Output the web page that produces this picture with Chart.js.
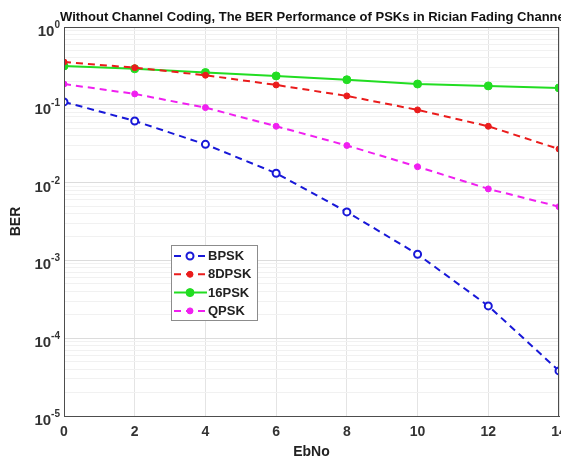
<!DOCTYPE html>
<html>
<head>
<meta charset="utf-8">
<script src="https://cdn.jsdelivr.net/npm/chart.js@4/dist/chart.umd.min.js"></script>
<style>
  html, body { margin: 0; padding: 0; background: #fff; overflow: hidden; }
  #wrap { width: 600px; height: 464px; position: relative; }
</style>
</head>
<body>
<div id="wrap"><canvas id="myChart"></canvas></div>
<script>
// data
const ebno = [0, 2, 4, 6, 8, 10, 12, 14];
const bpsk = [0.109, 0.062, 0.031, 0.0132, 0.0042, 0.0012, 0.00026, 0.000038];
const dpsk8 = [0.355, 0.30, 0.24, 0.18, 0.13, 0.086, 0.053, 0.027];
const psk16 = [0.315, 0.29, 0.26, 0.235, 0.21, 0.185, 0.175, 0.165];
const qpsk = [0.185, 0.138, 0.092, 0.053, 0.030, 0.016, 0.0083, 0.0049];
const xTicks = [0, 2, 4, 6, 8, 10, 12, 14];
const yDecades = [-5, -4, -3, -2, -1, 0];
const titleText = "Without Channel Coding, The BER Performance of PSKs in Rician Fading Channel";

const FAM = "Arial, 'Liberation Sans', sans-serif";

function pts(ys) {
    return ebno.map((x, i) => ({ x: x, y: ys[i] }));
}
function isDecade(v) {
    let l = Math.log10(v);
    return Math.abs(l - Math.round(l)) < 1e-6;
}

// title, box, y labels with real superscripts, and in-plot legend
const extras = {
    id: "extras",
    afterDraw(chart) {
        const ctx = chart.ctx;
        const a = chart.chartArea;
        const ys = chart.scales.y;
        ctx.save();
        // box round the axes
        ctx.strokeStyle = "#4d4d4d";
        ctx.lineWidth = 1;
        ctx.strokeRect(a.left + 0.5, a.top + 0.5, a.right - a.left - 1, a.bottom - a.top);
        // title
        ctx.fillStyle = "#111";
        ctx.font = "bold 13px " + FAM;
        ctx.textAlign = "left";
        ctx.textBaseline = "alphabetic";
        ctx.fillText(titleText, 60, 21);
        // y tick labels 10^e
        ctx.fillStyle = "#333";
        ctx.textAlign = "right";
        yDecades.forEach(e => {
            const y = ys.getPixelForValue(Math.pow(10, e));
            const ex = String(e);
            ctx.font = "bold 10px " + FAM;
            const w = ctx.measureText(ex).width;
            ctx.fillText(ex, 60, y + 1);
            ctx.font = "bold 15px " + FAM;
            ctx.fillText("10", 60 - w, y + 9);
        });
        // legend
        const lx = 171, ly = 245, lw = 86, lh = 75;
        ctx.textAlign = "left";
        ctx.fillStyle = "#fff";
        ctx.fillRect(lx, ly, lw, lh);
        ctx.strokeStyle = "#8c8c8c";
        ctx.lineWidth = 1;
        ctx.strokeRect(lx + 0.5, ly + 0.5, lw, lh);
        ctx.font = "bold 13px " + FAM;
        ctx.textBaseline = "middle";
        chart.data.datasets.forEach((ds, i) => {
            const y = ly + 11 + i * 18.3;
            ctx.strokeStyle = ds.borderColor;
            ctx.lineWidth = 2;
            ctx.setLineDash(ds.borderDash || []);
            ctx.beginPath();
            ctx.moveTo(lx + 3, y);
            ctx.lineTo(lx + 36, y);
            ctx.stroke();
            ctx.setLineDash([]);
            ctx.beginPath();
            ctx.arc(lx + 19, y, ds.pointRadius, 0, Math.PI * 2);
            ctx.fillStyle = ds.pointBackgroundColor;
            ctx.fill();
            ctx.lineWidth = ds.pointBorderWidth;
            ctx.strokeStyle = ds.pointBorderColor;
            ctx.stroke();
            ctx.fillStyle = "#222";
            ctx.fillText(ds.label, lx + 37, y + 0.5);
        });
        ctx.restore();
    }
};

new Chart(document.getElementById("myChart"), {
    type: "line",
    data: {
        datasets: [
            {
                label: "BPSK", data: pts(bpsk),
                borderColor: "#1818d8", borderWidth: 2, borderDash: [7, 5],
                pointRadius: 3.5, pointBackgroundColor: "#ffffff",
                pointBorderColor: "#1818d8", pointBorderWidth: 2
            },
            {
                label: "8DPSK", data: pts(dpsk8),
                borderColor: "#ea1c1c", borderWidth: 2, borderDash: [7, 5],
                pointRadius: 3, pointBackgroundColor: "#ea1c1c",
                pointBorderColor: "#ea1c1c", pointBorderWidth: 1
            },
            {
                label: "16PSK", data: pts(psk16),
                borderColor: "#22dd22", borderWidth: 2,
                pointRadius: 4, pointBackgroundColor: "#22dd22",
                pointBorderColor: "#22dd22", pointBorderWidth: 1
            },
            {
                label: "QPSK", data: pts(qpsk),
                borderColor: "#f020f0", borderWidth: 2, borderDash: [7, 5],
                pointRadius: 3, pointBackgroundColor: "#f020f0",
                pointBorderColor: "#f020f0", pointBorderWidth: 1
            }
        ]
    },
    options: {
        responsive: true,
        maintainAspectRatio: false,
        animation: false,
        layout: { padding: { left: 0, top: 27, right: 41, bottom: 0 } },
        plugins: {
            legend: { display: false },
            tooltip: { enabled: false }
        },
        scales: {
            x: {
                type: "linear", min: 0, max: 14,
                afterBuildTicks: (s) => { s.ticks = xTicks.map(v => ({ value: v })); },
                afterFit: (s) => { s.height = 48; },
                ticks: {
                    color: "#333", font: { family: FAM, weight: "bold", size: 14 }, padding: 8,
                    maxRotation: 0, autoSkip: false
                },
                grid: { color: "#e4e4e4", drawTicks: false },
                border: { color: "#4d4d4d" },
                title: {
                    display: true, text: "EbNo", color: "#222",
                    font: { family: FAM, weight: "bold", size: 14 }, padding: { top: 0, bottom: 3 }
                }
            },
            y: {
                type: "logarithmic", min: 1e-5, max: 1,
                afterBuildTicks: (s) => {
                    let t = [];
                    yDecades.forEach(e => {
                        if (e === 0) { t.push({ value: 1 }); return; }
                        for (let m = 1; m <= 9; m++) t.push({ value: m * Math.pow(10, e) });
                    });
                    s.ticks = t;
                },
                afterFit: (s) => { s.width = 64; },
                ticks: {
                    autoSkip: false,
                    callback: () => ""
                },
                grid: {
                    drawTicks: false,
                    color: (c) => (c.tick && isDecade(c.tick.value)) ? "#dcdcdc" : "#f1f1f1"
                },
                border: { color: "#4d4d4d" },
                title: {
                    display: true, text: "BER", color: "#222",
                    font: { family: FAM, weight: "bold", size: 14 }, padding: { top: 8, bottom: 0 }
                }
            }
        }
    },
    plugins: [extras]
});
</script>
</body>
</html>
